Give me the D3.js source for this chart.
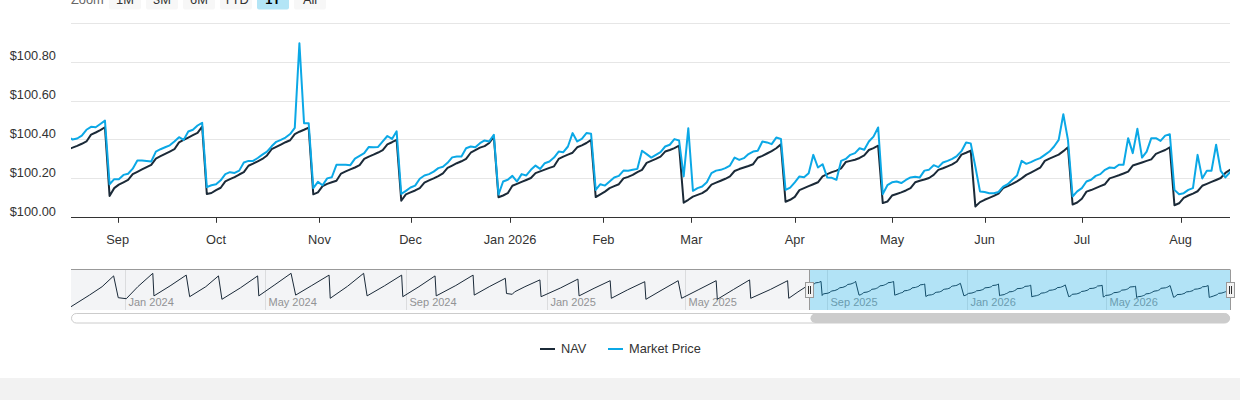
<!DOCTYPE html>
<html><head><meta charset="utf-8">
<script src="https://cdn.jsdelivr.net/npm/d3@7"></script>
<style>
body{margin:0;background:#fff;}
svg{display:block;font-family:"Liberation Sans",Arial,Helvetica,sans-serif;}
</style></head><body>
<svg id="chart" width="1240" height="400"></svg>
<script>
// ---------- DATA ----------
const startDate = "2025-08-15";
const endDate = "2026-08-17";
const rangeMin = "2025-08-17";
const holidays = ["2025-09-01","2025-11-27","2025-12-25","2026-01-01","2026-01-19","2026-02-16","2026-04-03","2026-05-25","2026-06-19","2026-07-03"];

const nav = [
100.350,100.358,100.367,100.378,100.390,100.425,100.436,100.448,100.463,
100.110,100.150,100.168,100.180,100.192,100.222,100.234,100.246,100.258,100.270,100.302,100.314,100.326,100.338,100.350,100.385,100.398,100.410,100.422,100.434,100.466,
100.120,100.125,100.140,100.152,100.185,100.196,100.207,100.220,100.232,100.265,100.276,100.288,100.300,100.318,100.350,100.362,100.374,100.386,100.396,100.428,100.440,100.450,100.461,
100.118,100.128,100.160,100.172,100.180,100.188,100.225,100.236,100.246,100.256,100.268,100.300,100.312,100.322,100.333,100.345,100.375,100.386,100.398,
100.085,100.118,100.128,100.138,100.150,100.178,100.190,100.200,100.212,100.226,100.254,100.266,100.278,100.288,100.300,100.332,100.345,100.358,100.366,100.382,100.414,
100.103,100.112,100.124,100.162,100.172,100.182,100.192,100.202,100.227,100.236,100.245,100.254,100.262,100.300,100.312,100.322,100.332,100.360,100.370,100.382,100.398,
100.104,100.118,100.132,100.150,100.160,100.170,100.200,100.208,100.218,100.232,100.244,100.280,100.290,100.300,100.312,100.338,100.346,100.356,100.368,
100.075,100.090,100.106,100.115,100.124,100.140,100.168,100.178,100.188,100.198,100.210,100.238,100.248,100.256,100.264,100.273,100.306,100.316,100.328,100.340,100.355,100.375,
100.080,100.090,100.105,100.140,100.150,100.160,100.170,100.180,100.210,100.222,100.232,100.240,100.252,100.284,100.290,100.296,100.305,100.318,100.346,100.356,100.368,
100.073,100.081,100.112,100.120,100.128,100.138,100.150,100.180,100.188,100.194,100.202,100.218,100.244,100.252,100.262,100.272,100.287,100.322,100.332,100.343,
100.056,100.078,100.090,100.100,100.110,100.122,100.150,100.160,100.172,100.185,100.200,100.218,100.230,100.242,100.255,100.290,100.302,100.312,100.322,100.340,100.360,
100.066,100.076,100.095,100.132,100.140,100.150,100.160,100.170,100.200,100.208,100.216,100.225,100.235,100.266,100.274,100.282,100.290,100.298,100.326,100.336,100.346,100.360,
100.062,100.072,100.100,100.112,100.122,100.134,100.162,100.172,100.182,100.192,100.202,100.228,100.244
];

const marketPrice = [
100.412,100.400,100.405,100.420,100.450,100.465,100.463,100.480,100.497,
100.170,100.196,100.196,100.218,100.224,100.250,100.292,100.292,100.290,100.287,100.338,100.350,100.360,100.370,100.390,100.412,100.398,100.441,100.450,100.472,100.486,
100.155,100.165,100.170,100.190,100.222,100.232,100.228,100.240,100.282,100.290,100.290,100.305,100.322,100.338,100.365,100.388,100.398,100.410,100.428,100.460,100.895,100.484,100.484,
100.150,100.182,100.165,100.200,100.206,100.270,100.270,100.270,100.268,100.302,100.316,100.330,100.362,100.360,100.362,100.390,100.418,100.403,100.442,
100.120,100.136,100.153,100.163,100.198,100.215,100.222,100.235,100.253,100.260,100.280,100.308,100.313,100.313,100.355,100.364,100.360,100.381,100.395,100.390,100.424,
100.117,100.184,100.193,100.213,100.184,100.222,100.215,100.244,100.266,100.249,100.278,100.287,100.307,100.338,100.335,100.364,100.433,100.390,100.403,100.433,100.429,
100.141,100.170,100.163,100.184,100.205,100.213,100.240,100.239,100.244,100.249,100.342,100.325,100.307,100.321,100.335,100.364,100.373,100.402,100.395,
100.210,100.458,100.136,100.150,100.158,100.180,100.227,100.240,100.244,100.253,100.266,100.307,100.295,100.304,100.325,100.338,100.342,100.390,100.385,100.376,100.410,100.403,
100.141,100.153,100.180,100.210,100.206,100.227,100.321,100.256,100.273,100.205,100.203,100.193,100.290,100.300,100.321,100.330,100.355,100.347,100.390,100.415,100.462,
100.119,100.165,100.180,100.184,100.176,100.192,100.205,100.208,100.205,100.240,100.245,100.268,100.258,100.282,100.290,100.300,100.315,100.340,100.385,100.380,
100.260,100.133,100.130,100.124,100.124,100.130,100.158,100.170,100.193,100.215,100.290,100.275,100.284,100.295,100.304,100.321,100.338,100.364,100.398,100.530,100.398,
100.107,100.133,100.150,100.184,100.193,100.213,100.222,100.244,100.256,100.253,100.270,100.270,100.407,100.330,100.455,100.307,100.338,100.407,100.407,100.393,100.420,100.427,
100.141,100.119,100.124,100.141,100.150,100.321,100.200,100.239,100.239,100.373,100.239,100.205,100.232
];

const yTicks = [100.0, 100.2, 100.4, 100.6, 100.8, 101.0];
const yTickLabels = ["$100.00","$100.20","$100.40","$100.60","$100.80",""];
const monthTicks = ["2025-09-01","2025-10-01","2025-11-01","2025-12-01","2026-01-01","2026-02-01","2026-03-01","2026-04-01","2026-05-01","2026-06-01","2026-07-01","2026-08-01"];
const monthLabels = ["Sep","Oct","Nov","Dec","Jan 2026","Feb","Mar","Apr","May","Jun","Jul","Aug"];

// navigator history (NAV before the visible range)
const navHistDates = ["2023-11-15","2023-12-01","2023-12-12","2023-12-22","2023-12-26","2024-01-02","2024-01-12","2024-01-25","2024-01-26","2024-02-09","2024-02-23","2024-02-26","2024-03-11","2024-03-22","2024-03-25","2024-04-10","2024-04-25","2024-04-26","2024-05-10","2024-05-24","2024-05-28","2024-06-11","2024-06-26","2024-06-27","2024-07-12","2024-07-26","2024-07-29","2024-08-13","2024-08-28","2024-08-29","2024-09-12","2024-09-26","2024-09-27","2024-10-14","2024-10-29","2024-10-30","2024-11-12","2024-11-26","2024-11-27","2024-12-02","2024-12-04","2024-12-13","2024-12-26","2024-12-27","2025-01-13","2025-01-28","2025-01-29","2025-02-11","2025-02-25","2025-02-26","2025-03-12","2025-03-27","2025-03-28","2025-04-11","2025-04-25","2025-04-28","2025-05-13","2025-05-28","2025-05-29","2025-06-12","2025-06-26","2025-06-27","2025-07-14","2025-07-29","2025-07-30","2025-08-07"];
const navHistValues = [99.830,100.120,100.330,100.600,100.055,100.030,100.330,100.665,100.100,100.350,100.620,100.080,100.330,100.600,100.015,100.300,100.600,100.100,100.380,100.665,100.120,100.360,100.620,100.040,100.340,100.665,100.100,100.350,100.620,100.080,100.330,100.600,100.100,100.360,100.620,100.120,100.330,100.540,100.160,100.140,100.200,100.330,100.500,100.080,100.300,100.520,100.100,100.290,100.480,100.040,100.250,100.455,100.015,100.250,100.480,100.040,100.260,100.480,100.015,100.260,100.500,100.040,100.260,100.480,100.040,100.200];
const navTickDates = ["2024-01-01","2024-05-01","2024-09-01","2025-01-01","2025-05-01","2025-09-01","2026-01-01","2026-05-01"];
const navTickLabels = ["Jan 2024","May 2024","Sep 2024","Jan 2025","May 2025","Sep 2025","Jan 2026","May 2026"];

const rangeButtons = ["1M","3M","6M","YTD","1Y","All"];
const selectedButton = "1Y";
const seriesNames = ["NAV","Market Price"];
const seriesColors = ["#1b2a38","#0ba8e6"];

// ---------- SETUP ----------
const parse = d3.utcParse("%Y-%m-%d");
const fmt = d3.utcFormat("%Y-%m-%d");
const hol = new Set(holidays);
const days = [];
for (let t = parse(startDate); t <= parse(endDate); t = d3.utcDay.offset(t, 1)) {
  const wd = t.getUTCDay();
  if (wd !== 0 && wd !== 6 && !hol.has(fmt(t))) days.push(t);
}
const N = Math.min(days.length, nav.length, marketPrice.length);

function ordPos(t) {
  const i = d3.bisector(d => d).left(days, t);
  if (i <= 0) return 0;
  if (i >= days.length) return days.length - 1;
  const a = days[i - 1], b = days[i];
  if (+b === +t) return i;
  return i - 1 + (t - a) / (b - a);
}

const plot = {left: 71, right: 1230, top: 22.8, bottom: 217.3};
const x = d3.scaleLinear().domain([ordPos(parse(rangeMin)), N - 1]).range([plot.left, plot.right]);
const y = d3.scaleLinear().domain([100, 101]).range([plot.bottom, plot.top]);

const svg = d3.select("#chart");
const crisp = v => Math.round(v) + 0.5;

// footer band
svg.append("rect").attr("x", 0).attr("y", 378).attr("width", 1240).attr("height", 22).attr("fill", "#f2f2f2");

// ---------- RANGE SELECTOR ----------
svg.append("text").attr("x", 71).attr("y", 4).attr("font-size", 12.8).attr("fill", "#666").text("Zoom");
const btnW = 32, btnGap = 5, btn0 = 109;
rangeButtons.forEach((b, i) => {
  const bx = btn0 + i * (btnW + btnGap);
  const sel = b === selectedButton;
  svg.append("rect").attr("x", bx).attr("y", -13).attr("width", btnW).attr("height", 22.5).attr("rx", 2)
    .attr("fill", sel ? "#b3e5f6" : "#f7f7f7");
  svg.append("text").attr("x", bx + btnW / 2).attr("y", 4).attr("text-anchor", "middle")
    .attr("font-size", 12.8).attr("font-weight", sel ? "bold" : "normal").attr("fill", sel ? "#000" : "#333").text(b);
});

// ---------- MAIN CHART ----------
const gGrid = svg.append("g");
yTicks.forEach((v, i) => {
  if (v > 100) {
    gGrid.append("line").attr("x1", plot.left).attr("x2", plot.right)
      .attr("y1", crisp(y(v))).attr("y2", crisp(y(v))).attr("stroke", "#e6e6e6").attr("stroke-width", 1);
  }
  if (yTickLabels[i]) {
    svg.append("text").attr("x", 56).attr("y", y(v) - 1.5).attr("text-anchor", "end")
      .attr("font-size", 12.8).attr("fill", "#333").text(yTickLabels[i]);
  }
});

// x axis
svg.append("line").attr("x1", plot.left).attr("x2", plot.right).attr("y1", crisp(plot.bottom)).attr("y2", crisp(plot.bottom))
  .attr("stroke", "#333").attr("stroke-width", 1);
monthTicks.forEach((d, i) => {
  const px = x(ordPos(parse(d)));
  svg.append("line").attr("x1", crisp(px)).attr("x2", crisp(px)).attr("y1", plot.bottom).attr("y2", plot.bottom + 5.5)
    .attr("stroke", "#333").attr("stroke-width", 1);
  svg.append("text").attr("x", px).attr("y", 244).attr("text-anchor", "middle")
    .attr("font-size", 12.8).attr("fill", "#333").text(monthLabels[i]);
});

svg.append("clipPath").attr("id", "plotClip").append("rect")
  .attr("x", plot.left).attr("y", 0).attr("width", plot.right - plot.left).attr("height", plot.bottom);

const line = d3.line().x((d, i) => x(i)).y(d => y(d));
const gLines = svg.append("g").attr("clip-path", "url(#plotClip)");
[nav, marketPrice].forEach((s, k) => {
  gLines.append("path").attr("d", line(s.slice(0, N))).attr("fill", "none")
    .attr("stroke", seriesColors[k]).attr("stroke-width", 2)
    .attr("stroke-linejoin", "round").attr("stroke-linecap", "round");
});

// ---------- NAVIGATOR ----------
const navTop = 269.5, navBottom = 310;
const navData = navHistDates.map((d, i) => ({t: parse(d), v: navHistValues[i]}))
  .concat(days.slice(0, N).map((t, i) => ({t, v: nav[i]})));
const xn = d3.scaleUtc().domain([parse(navHistDates[0]), parse(endDate)]).range([plot.left, plot.right]);
const yn = d3.scaleLinear().domain(d3.extent(navData, d => d.v)).range([306.7, 273.3]);
const selX0 = xn(parse(rangeMin)), selX1 = xn(parse(endDate));

const gNav = svg.append("g");
navTickDates.forEach((d, i) => {
  const px = crisp(xn(parse(d)));
  gNav.append("line").attr("x1", px).attr("x2", px).attr("y1", navTop).attr("y2", navBottom)
    .attr("stroke", "#e6e6e6").attr("stroke-width", 1);
  gNav.append("text").attr("x", px + 3).attr("y", 305.5).attr("font-size", 11).attr("fill", "#999").text(navTickLabels[i]);
});
gNav.append("path").attr("d", d3.line().x(d => xn(d.t)).y(d => yn(d.v))(navData))
  .attr("fill", "none").attr("stroke", "#1b2a38").attr("stroke-width", 1);
// masks
gNav.append("rect").attr("x", plot.left).attr("y", navTop).attr("width", selX0 - plot.left).attr("height", navBottom - navTop)
  .attr("fill", "rgba(16,37,70,0.05)");
gNav.append("rect").attr("x", selX0).attr("y", navTop).attr("width", selX1 - selX0).attr("height", navBottom - navTop)
  .attr("fill", "rgba(0,163,224,0.3)");
// outline
gNav.append("line").attr("x1", plot.left).attr("x2", plot.right).attr("y1", navTop).attr("y2", navTop)
  .attr("stroke", "#999").attr("stroke-width", 1);
[selX0, selX1].forEach(sx => {
  gNav.append("line").attr("x1", crisp(sx)).attr("x2", crisp(sx)).attr("y1", navTop).attr("y2", navBottom)
    .attr("stroke", "#999").attr("stroke-width", 1);
});
// handles
[selX0, selX1].forEach(sx => {
  const hx = Math.round(sx) - 4 + 0.5;
  gNav.append("rect").attr("x", hx).attr("y", 282.5).attr("width", 8).attr("height", 15)
    .attr("fill", "#f2f2f2").attr("stroke", "#999").attr("stroke-width", 1);
  [3, 5].forEach(o => gNav.append("line").attr("x1", hx + o).attr("x2", hx + o).attr("y1", 286).attr("y2", 294)
    .attr("stroke", "#333").attr("stroke-width", 1));
});

// scrollbar
svg.append("rect").attr("x", plot.left + 0.5).attr("y", 313.5).attr("width", plot.right - plot.left - 1).attr("height", 9.5)
  .attr("rx", 4.75).attr("fill", "#fff").attr("stroke", "#ccc").attr("stroke-width", 1);
svg.append("rect").attr("x", selX0 + 1).attr("y", 313.5).attr("width", selX1 - selX0 - 1).attr("height", 9.5)
  .attr("rx", 4.75).attr("fill", "#cccccc");

// ---------- LEGEND ----------
const legendItems = [{x: 540, name: seriesNames[0], color: seriesColors[0]}, {x: 608, name: seriesNames[1], color: seriesColors[1]}];
legendItems.forEach(it => {
  svg.append("line").attr("x1", it.x).attr("x2", it.x + 15).attr("y1", 349).attr("y2", 349)
    .attr("stroke", it.color).attr("stroke-width", 2);
  svg.append("text").attr("x", it.x + 21).attr("y", 353.3).attr("font-size", 12.8).attr("fill", "#333").text(it.name);
});
</script>
</body></html>
